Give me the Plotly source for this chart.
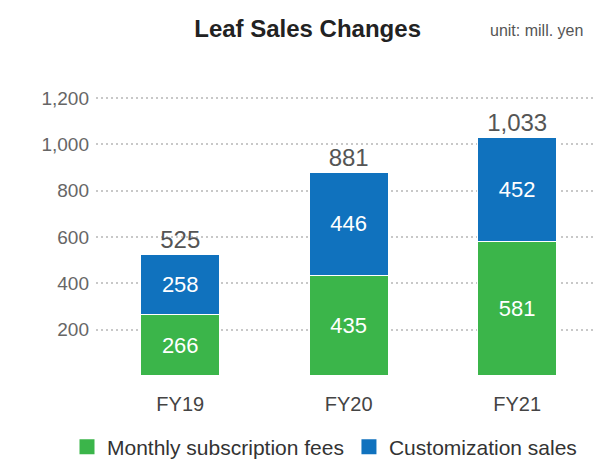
import plotly.graph_objects as go

categories = ["FY19", "FY20", "FY21"]
monthly_fees = [266, 435, 581]
customization = [258, 446, 452]
totals = [525, 881, 1033]
y_ticks = [0, 200, 400, 600, 800, 1000, 1200]
y_tick_labels = ["", "200", "400", "600", "800", "1,000", "1,200"]
series_names = ["Monthly subscription fees", "Customization sales"]

GREEN = "#3BB54A"
BLUE = "#1072BE"
FONT = "Liberation Sans, Arial, Helvetica, sans-serif"

fig = go.Figure()
for vals, name, color in [(monthly_fees, series_names[0], GREEN),
                          (customization, series_names[1], BLUE)]:
    fig.add_trace(go.Bar(
        x=categories, y=vals, name=name, legendgroup=name, showlegend=False,
        marker=dict(color=color, line=dict(color="white", width=1.5)),
        text=[str(v) for v in vals], textposition="inside",
        insidetextanchor="middle", textangle=0,
        textfont=dict(color="white", size=22, family=FONT),
        width=0.47,
    ))
# legend entries (square swatches)
for name, color in [(series_names[0], GREEN), (series_names[1], BLUE)]:
    fig.add_trace(go.Scatter(
        x=[None], y=[None], mode="markers", name=name, legendgroup=name,
        marker=dict(symbol="square", size=15, color=color),
        showlegend=True, hoverinfo="skip",
    ))
fig.add_trace(go.Scatter(
    x=categories, y=totals, mode="text",
    text=[f"{v:,}" for v in totals], textposition="top center",
    textfont=dict(color="#555555", size=24, family=FONT),
    showlegend=False, cliponaxis=False, hoverinfo="skip",
))

fig.update_layout(
    width=595, height=462,
    margin=dict(l=96, r=2, t=75, b=86, autoexpand=False),
    barmode="stack",
    plot_bgcolor="white", paper_bgcolor="white",
    font=dict(family=FONT, color="#333333"),
    title=dict(text="<b>Leaf Sales Changes</b>", x=0.517, xref="container",
               xanchor="center", y=0.938, yref="container", yanchor="middle",
               font=dict(size=24, color="#222222", family=FONT)),
    legend=dict(orientation="h", xref="paper", yref="paper",
                x=(67 - 96) / 497, xanchor="left",
                y=(376 - 447) / 301, yanchor="middle",
                font=dict(size=21, color="#333333", family=FONT),
                itemwidth=30, itemsizing="trace", traceorder="normal",
                bgcolor="rgba(0,0,0,0)"),
    annotations=[dict(text="unit: mill. yen", xref="paper", yref="paper",
                      x=(585 - 96) / 497, y=(376 - 31) / 301,
                      xanchor="right", yanchor="middle",
                      showarrow=False, font=dict(size=16, color="#555555", family=FONT))],
)
fig.update_xaxes(range=[-0.5, 2.45], showgrid=False, showline=False, zeroline=False,
                 tickfont=dict(size=20, color="#444444", family=FONT),
                 ticklabelstandoff=14)
fig.update_yaxes(range=[0, 1300], tickvals=y_ticks, ticktext=y_tick_labels,
                 showgrid=True, gridcolor="#C8C8C8", griddash="2px,3px", gridwidth=2,
                 zeroline=False, showline=False,
                 tickfont=dict(size=19, color="#666666", family=FONT),
                 ticklabelstandoff=6)

fig.write_html("out.html", config={"displayModeBar": False},
               post_script="document.body.style.margin='0';")
